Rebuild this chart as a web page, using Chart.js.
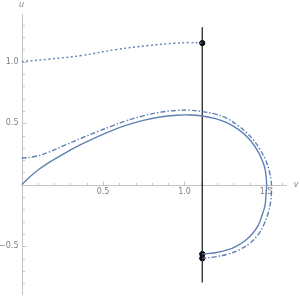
<!DOCTYPE html>
<html>
<head>
<meta charset="utf-8">
<script src="https://cdn.jsdelivr.net/npm/chart.js@4"></script>
<style>
html,body{margin:0;padding:0;background:#fff;}
#wrap{width:300px;height:300px;}
</style>
</head>
<body>
<div id="wrap"><canvas id="c" width="300" height="300"></canvas></div>
<script>
// Solid curve (v, u)
const solidV = [0, 0.05, 0.1, 0.165, 0.267, 0.369, 0.471, 0.55, 0.635, 0.747, 0.85, 0.952, 1.03, 1.109, 1.19, 1.259, 1.33, 1.391, 1.43, 1.463, 1.49, 1.5, 1.504, 1.5, 1.494, 1.475, 1.453, 1.415, 1.371, 1.32, 1.269, 1.19, 1.111];
const solidU = [0, 0.063, 0.118, 0.178, 0.258, 0.33, 0.393, 0.438, 0.48, 0.523, 0.551, 0.565, 0.567, 0.559, 0.537, 0.505, 0.45, 0.38, 0.315, 0.24, 0.15, 0.075, 0, -0.08, -0.167, -0.25, -0.328, -0.4, -0.455, -0.498, -0.527, -0.552, -0.562];
// Dash-dot curve
const dashV = [0, 0.083, 0.165, 0.267, 0.369, 0.471, 0.55, 0.635, 0.747, 0.85, 0.952, 1.03, 1.109, 1.19, 1.259, 1.33, 1.38, 1.422, 1.462, 1.498, 1.52, 1.532, 1.534, 1.528, 1.512, 1.488, 1.452, 1.4, 1.34, 1.269, 1.19, 1.111];
const dashU = [0.215, 0.23, 0.264, 0.322, 0.38, 0.435, 0.475, 0.516, 0.56, 0.589, 0.604, 0.606, 0.594, 0.574, 0.54, 0.48, 0.425, 0.365, 0.29, 0.2, 0.11, 0.03, -0.05, -0.14, -0.235, -0.32, -0.405, -0.475, -0.525, -0.562, -0.585, -0.597];
// Dotted curve
const dotV = [0, 0.165, 0.37, 0.574, 0.778, 0.942, 1.03, 1.105];
const dotU = [1.0, 1.02, 1.05, 1.097, 1.131, 1.15, 1.155, 1.151];
// Vertical line and marked points
const vLineX = [1.109, 1.109];
const vLineY = [1.28, -0.793];
const markV = [1.109, 1.109, 1.109];
const markU = [1.151, -0.562, -0.597];
// Axes
const xMin = 0, xMax = 1.627, yMin = -0.895, yMax = 1.387;
const xTickLabels = [0.5, 1.0, 1.5];
const yTickLabels = [-0.5, 0.5, 1.0];
const xLabel = 'v', yLabel = 'u';

const pts = (a, b) => a.map((v, i) => ({x: v, y: b[i]}));
const BLUE = '#5e81b5';

const axesPlugin = {
  id: 'mmaAxes',
  beforeDatasetsDraw(chart) {
    const ctx = chart.ctx, xs = chart.scales.x, ys = chart.scales.y;
    const x0 = xs.getPixelForValue(0), y0 = ys.getPixelForValue(0);
    ctx.save();
    ctx.strokeStyle = '#c4c4c4';
    ctx.lineWidth = 1;
    ctx.beginPath();
    ctx.moveTo(xs.getPixelForValue(xMin), Math.round(y0) + 0.5);
    ctx.lineTo(xs.getPixelForValue(xMax), Math.round(y0) + 0.5);
    ctx.moveTo(Math.round(x0) + 0.5, ys.getPixelForValue(yMax));
    ctx.lineTo(Math.round(x0) + 0.5, ys.getPixelForValue(yMin));
    for (let k = 1; k <= 16; k++) {
      const px = Math.round(xs.getPixelForValue(k / 10)) + 0.5;
      const len = (k % 5 === 0) ? 4 : 2.5;
      ctx.moveTo(px, Math.round(y0) + 0.5);
      ctx.lineTo(px, Math.round(y0) + 0.5 - len);
    }
    for (let k = -8; k <= 13; k++) {
      if (k === 0) continue;
      const py = Math.round(ys.getPixelForValue(k / 10)) + 0.5;
      const len = (k % 5 === 0) ? 4 : 2.5;
      ctx.moveTo(Math.round(x0) + 0.5, py);
      ctx.lineTo(Math.round(x0) + 0.5 + len, py);
    }
    ctx.stroke();
    ctx.fillStyle = '#808080';
    ctx.font = '8px "DejaVu Sans"';
    ctx.textAlign = 'center';
    ctx.textBaseline = 'top';
    xTickLabels.forEach(v => {
      ctx.fillText(v.toFixed(1), xs.getPixelForValue(v), y0 + 3);
    });
    ctx.textAlign = 'right';
    ctx.textBaseline = 'middle';
    yTickLabels.forEach(v => {
      ctx.fillText(v.toFixed(1).replace('-', '\u2212'), x0 - 3, ys.getPixelForValue(v));
    });
    ctx.font = 'italic 8px "DejaVu Sans"';
    ctx.textAlign = 'center';
    ctx.fillText(yLabel, x0, 5);
    ctx.textAlign = 'left';
    ctx.fillText(xLabel, xs.getPixelForValue(xMax) + 7, y0);
    ctx.restore();
  }
};

new Chart(document.getElementById('c'), {
  type: 'scatter',
  data: {
    datasets: [
      {data: pts(dotV, dotU), showLine: true, borderColor: BLUE, borderWidth: 1.4, borderDash: [2, 2.5], pointRadius: 0, tension: 0.4},
      {data: pts(dashV, dashU), showLine: true, borderColor: BLUE, borderWidth: 1.4, borderDash: [5, 2, 1.5, 2], pointRadius: 0, tension: 0.4},
      {data: pts(solidV, solidU), showLine: true, borderColor: BLUE, borderWidth: 1.4, pointRadius: 0, tension: 0.4},
      {data: pts(vLineX, vLineY), showLine: true, borderColor: '#222', borderWidth: 1.3, pointRadius: 0},
      {data: pts(markV, markU), showLine: false, backgroundColor: '#000', borderColor: '#000', pointRadius: 2.6}
    ]
  },
  options: {
    responsive: false,
    animation: false,
    layout: {padding: {left: 21.5, right: 13.3, top: 14, bottom: 3}},
    plugins: {legend: {display: false}, tooltip: {enabled: false}},
    scales: {
      x: {type: 'linear', min: xMin, max: xMax, display: false},
      y: {type: 'linear', min: yMin, max: yMax, display: false}
    }
  },
  plugins: [axesPlugin]
});
</script>
</body>
</html>
